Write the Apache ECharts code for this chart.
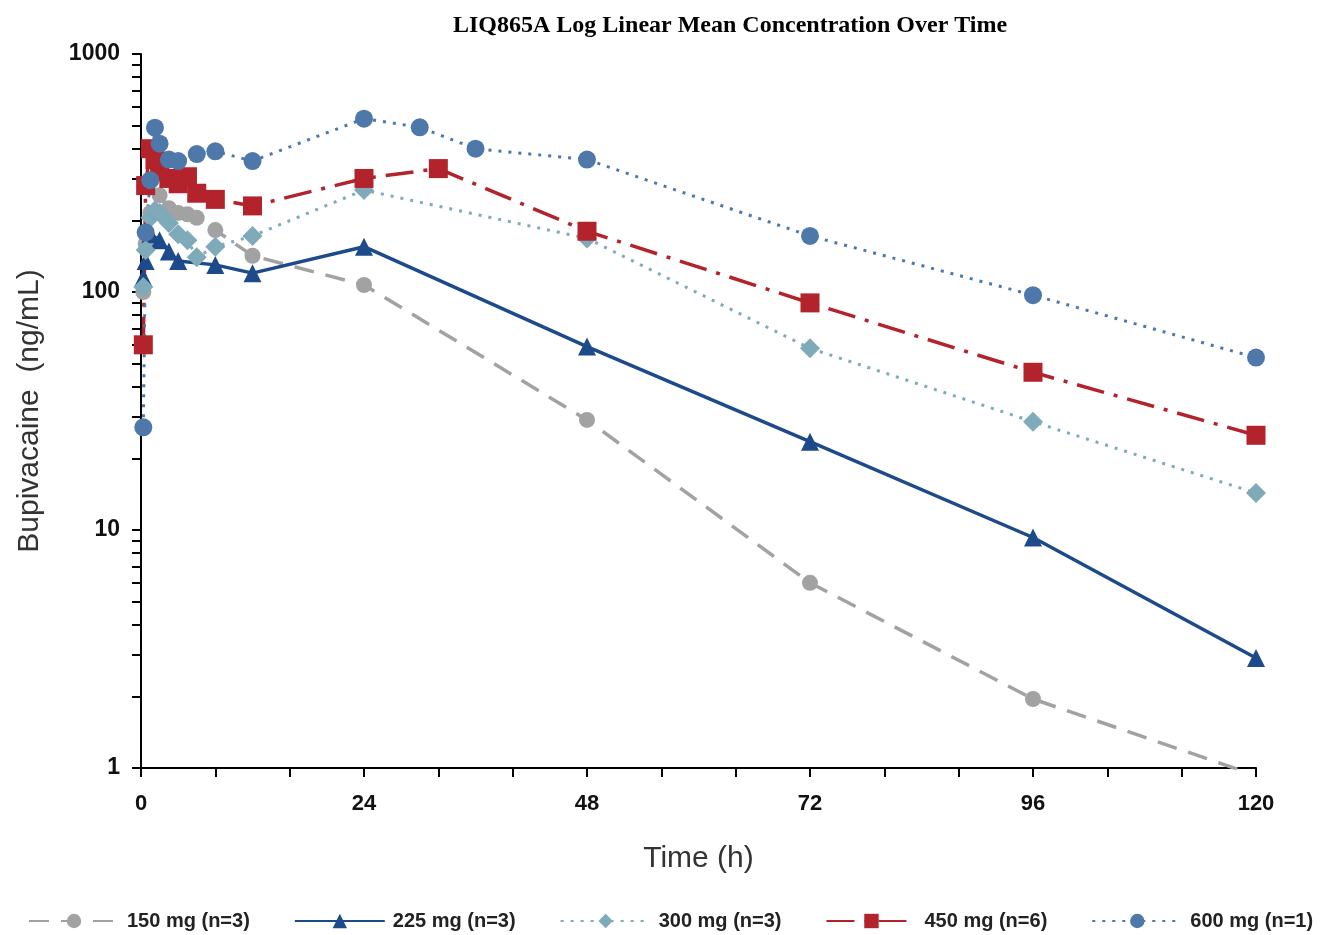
<!DOCTYPE html>
<html>
<head>
<meta charset="utf-8">
<script src="https://cdn.jsdelivr.net/npm/echarts@6/dist/echarts.min.js"></script>
<style>html,body{margin:0;padding:0;background:#fff}#c{width:1320px;height:935px}</style>
</head>
<body>
<div id="c"></div>
<script>
const seriesNames = ['150 mg (n=3)', '225 mg (n=3)', '300 mg (n=3)', '450 mg (n=6)', '600 mg (n=1)'];
const t150 = [0.25, 0.5, 1, 2, 3, 4, 5, 6, 8, 12, 24, 48, 72, 96, 120];
const v150 = [100, 160, 215, 255, 225, 215, 212, 205, 182, 142, 107, 29, 6, 1.95, 0.93];
const t225 = [0.25, 0.5, 1, 2, 3, 4, 8, 12, 24, 48, 72, 96, 120];
const v225 = [115, 135, 175, 165, 148, 135, 130, 120, 155, 59, 23.5, 9.3, 2.9];
const t300 = [0.25, 0.5, 1, 1.5, 2, 3, 4, 5, 6, 8, 12, 24, 48, 72, 96, 120];
const v300 = [105, 150, 205, 220, 215, 195, 175, 165, 140, 155, 172, 268, 168, 58, 28.5, 14.3];
const t450 = [0.25, 0.5, 1, 1.5, 2, 3, 4, 5, 6, 8, 12, 24, 32, 48, 72, 96, 120];
const v450 = [60, 280, 400, 360, 320, 300, 285, 305, 260, 245, 230, 300, 330, 180, 90, 46, 25];
const t600 = [0.25, 0.5, 1, 1.5, 2, 3, 4, 6, 8, 12, 24, 30, 36, 48, 72, 96, 120];
const v600 = [27, 178, 295, 490, 420, 360, 355, 380, 390, 355, 535, 492, 400, 360, 172, 97, 53];
const yLabelValues = [1, 10, 100, 1000];
const yTickValues = [1,2,3,4,5,6,7,8,9,10,20,30,40,50,60,70,80,90,100,200,300,400,500,600,700,800,900,1000];
const xMajorLabels = [0, 24, 48, 72, 96, 120];

const zip = (t, v) => t.map((x, i) => [x, v[i]]);

const chart = echarts.init(document.getElementById('c'), null, {renderer: 'canvas'});
chart.setOption({
  animation: false,
  backgroundColor: '#fff',
  title: {
    text: 'LIQ865A Log Linear Mean Concentration Over Time',
    left: 448, top: 9,
    textStyle: {fontFamily: 'Liberation Serif', fontWeight: 'bold', fontSize: 24, color: '#000'}
  },
  grid: {left: 141, right: 64, top: 54, bottom: 167, containLabel: false},
  legend: {
    top: 911, left: 28, width: 1300, padding: 0, itemWidth: 90, itemHeight: 18, itemGap: 44,
    textStyle: {fontFamily: 'Liberation Sans', fontWeight: 'bold', fontSize: 20, color: '#222', padding: [0, 0, 0, 3]},
    data: seriesNames
  },
  xAxis: {
    type: 'value', min: 0, max: 120, interval: 8,
    name: 'Time (h)', nameLocation: 'middle', nameGap: 76,
    nameTextStyle: {fontFamily: 'Liberation Sans', fontSize: 30, color: '#333'},
    axisLine: {lineStyle: {color: '#000', width: 2}},
    axisTick: {length: 9, lineStyle: {color: '#000', width: 2}},
    axisLabel: {
      margin: 25, fontFamily: 'Liberation Sans', fontWeight: 'bold', fontSize: 22, color: '#111',
      formatter: v => xMajorLabels.indexOf(v) >= 0 ? String(v) : ''
    },
    splitLine: {show: false}
  },
  yAxis: {
    type: 'log', logBase: 10, min: 1, max: 1000,
    name: 'Bupivacaine  (ng/mL)', nameLocation: 'middle', nameGap: 96,
    nameTextStyle: {fontFamily: 'Liberation Sans', fontSize: 30, color: '#333'},
    axisLine: {show: true, lineStyle: {color: '#000', width: 2}},
    axisTick: {show: true, length: 9, customValues: yTickValues, lineStyle: {color: '#000', width: 2}},
    axisLabel: {
      margin: 21, fontFamily: 'Liberation Sans', fontWeight: 'bold', fontSize: 23, color: '#111',
      customValues: yLabelValues,
      formatter: v => String(Math.round(v))
    },
    splitLine: {show: false}
  },
  series: [
    {
      name: seriesNames[0], type: 'line', data: zip(t150, v150),
      symbol: 'circle', symbolSize: 16, clip: true,
      itemStyle: {color: '#a2a2a2'},
      lineStyle: {color: '#a2a2a2', width: 3.5, type: [20, 12]}
    },
    {
      name: seriesNames[1], type: 'line', data: zip(t225, v225),
      symbol: 'triangle', symbolSize: 18, clip: true,
      itemStyle: {color: '#1c4a8a'},
      lineStyle: {color: '#1c4a8a', width: 3.5, type: 'solid'}
    },
    {
      name: seriesNames[2], type: 'line', data: zip(t300, v300),
      symbol: 'diamond', symbolSize: 20, clip: true,
      itemStyle: {color: '#7eaab9'},
      lineStyle: {color: '#7eaab9', width: 3, type: [3, 7]}
    },
    {
      name: seriesNames[3], type: 'line', data: zip(t450, v450),
      symbol: 'rect', symbolSize: 19, clip: true,
      itemStyle: {color: '#b3232b'},
      lineStyle: {color: '#b3232b', width: 3.5, type: [28, 10, 4, 10]}
    },
    {
      name: seriesNames[4], type: 'line', data: zip(t600, v600),
      symbol: 'circle', symbolSize: 18, clip: true,
      itemStyle: {color: '#4d78a9'},
      lineStyle: {color: '#4d78a9', width: 3, type: [3, 7]}
    }
  ]
});
</script>
</body>
</html>
